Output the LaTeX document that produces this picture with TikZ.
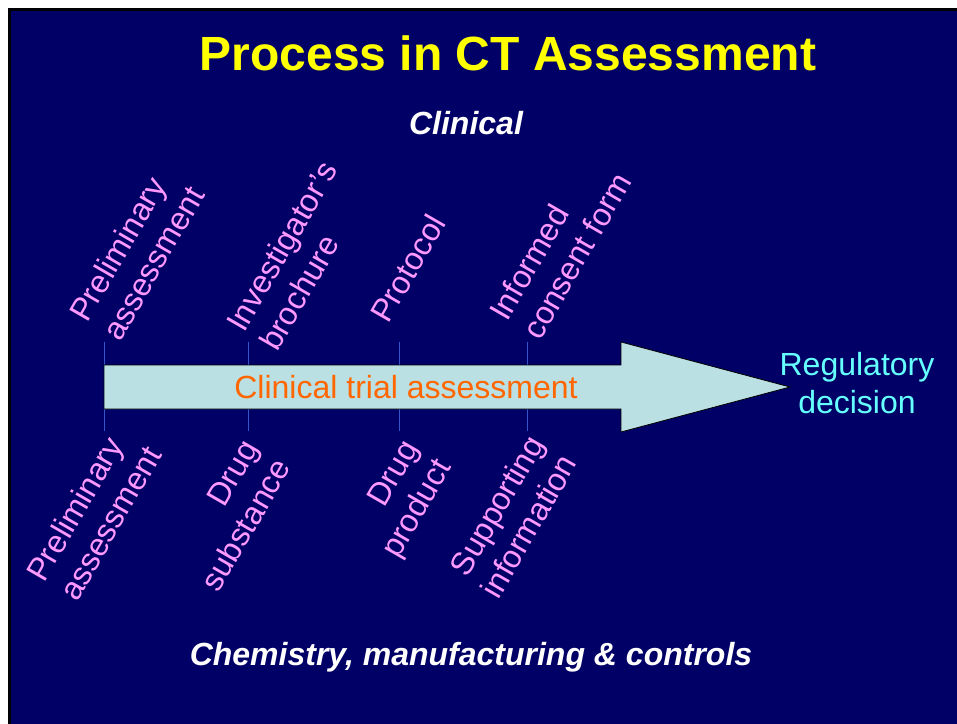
\documentclass[tikz,border=0pt]{standalone}
\usepackage{fontspec}
\setmainfont{Liberation Sans}
\begin{document}
\begin{tikzpicture}[x=0.75pt, y=0.75pt]
    % Colours of the slide
    \definecolor{slideBg}{RGB}{0, 0, 102}
    \definecolor{titleY}{RGB}{255, 255, 0}
    \definecolor{labelP}{RGB}{255, 153, 255}
    \definecolor{arrowF}{RGB}{187, 224, 227}
    \definecolor{trialO}{RGB}{255, 102, 0}
    \definecolor{decisionC}{RGB}{102, 255, 255}
    \definecolor{tickB}{RGB}{51, 85, 204}

    \tikzset{
        doclabel/.style={text=labelP, font=\fontsize{24}{28.5}\selectfont, rotate=60, inner sep=0pt},
        uplabel/.style={doclabel, align=left, anchor=base west},
        lowlabel/.style={doclabel, align=right, anchor=base east},
        tickline/.style={tickB, line width=0.75pt}
    }

    % 0. Background and frame (y runs downwards, as negative numbers)
    \useasboundingbox (0,0) rectangle (957,-724);
    \fill[white] (0,0) rectangle (957,-724);
    \fill[black] (8,-8) rectangle (957,-724);
    \fill[slideBg] (11,-11) rectangle (957,-724);

    % 1. Title and the two headings
    \node[anchor=base, text=titleY, font=\bfseries\fontsize{36}{40}\selectfont] (title) at (508, -70) {Process in CT Assessment};
    \node[anchor=base, text=white, font=\bfseries\itshape\fontsize{24}{28}\selectfont] (clinical) at (466, -134) {Clinical};
    \node[anchor=base, text=white, font=\bfseries\itshape\fontsize{24}{28}\selectfont] (cmc) at (471, -665) {Chemistry, manufacturing \& controls};

    % 2. Ticks above and below the arrow
    \foreach \x in {104, 248, 399, 527} {
        \draw[tickline] (\x, -342) -- (\x, -365);
        \draw[tickline] (\x, -409) -- (\x, -431);
    }

    % 3. Big arrow
    \fill[arrowF, draw=black, line width=0.6pt] (104,-365) -- (621,-365) -- (621,-342) -- (790,-387)
        -- (621,-432) -- (621,-409) -- (104,-409) -- cycle;
    \node[anchor=base, text=trialO, font=\fontsize{24}{28}\selectfont] (trial) at (406, -398) {Clinical trial assessment};
    \node[align=center, text=decisionC, font=\fontsize{24}{28}\selectfont] (decision) at (857, -383) {Regulatory\\decision};

    % 4. Clinical documents (upper), anchored on the last line
    \node[uplabel] (upPrelim) at (120, -343) {Preliminary\\assessment};
    \node[uplabel] (upBrochure) at (277, -353) {Investigator’s\\brochure};
    \node[uplabel] (upProtocol) at (388, -325) {Protocol};
    \node[uplabel] (upConsent) at (540, -342) {Informed\\consent form};

    % 5. CMC documents (lower)
    \node[doclabel, align=left, anchor=base west] (loPrelim) at (77, -603) {Preliminary\\assessment};
    \node[lowlabel] (loSubstance) at (292, -467) {Drug\\substance};
    \node[lowlabel] (loProduct) at (452, -467) {Drug\\product};
    \node[lowlabel] (loSupport) at (578, -463) {Supporting\\information};

\end{tikzpicture}
\end{document}
